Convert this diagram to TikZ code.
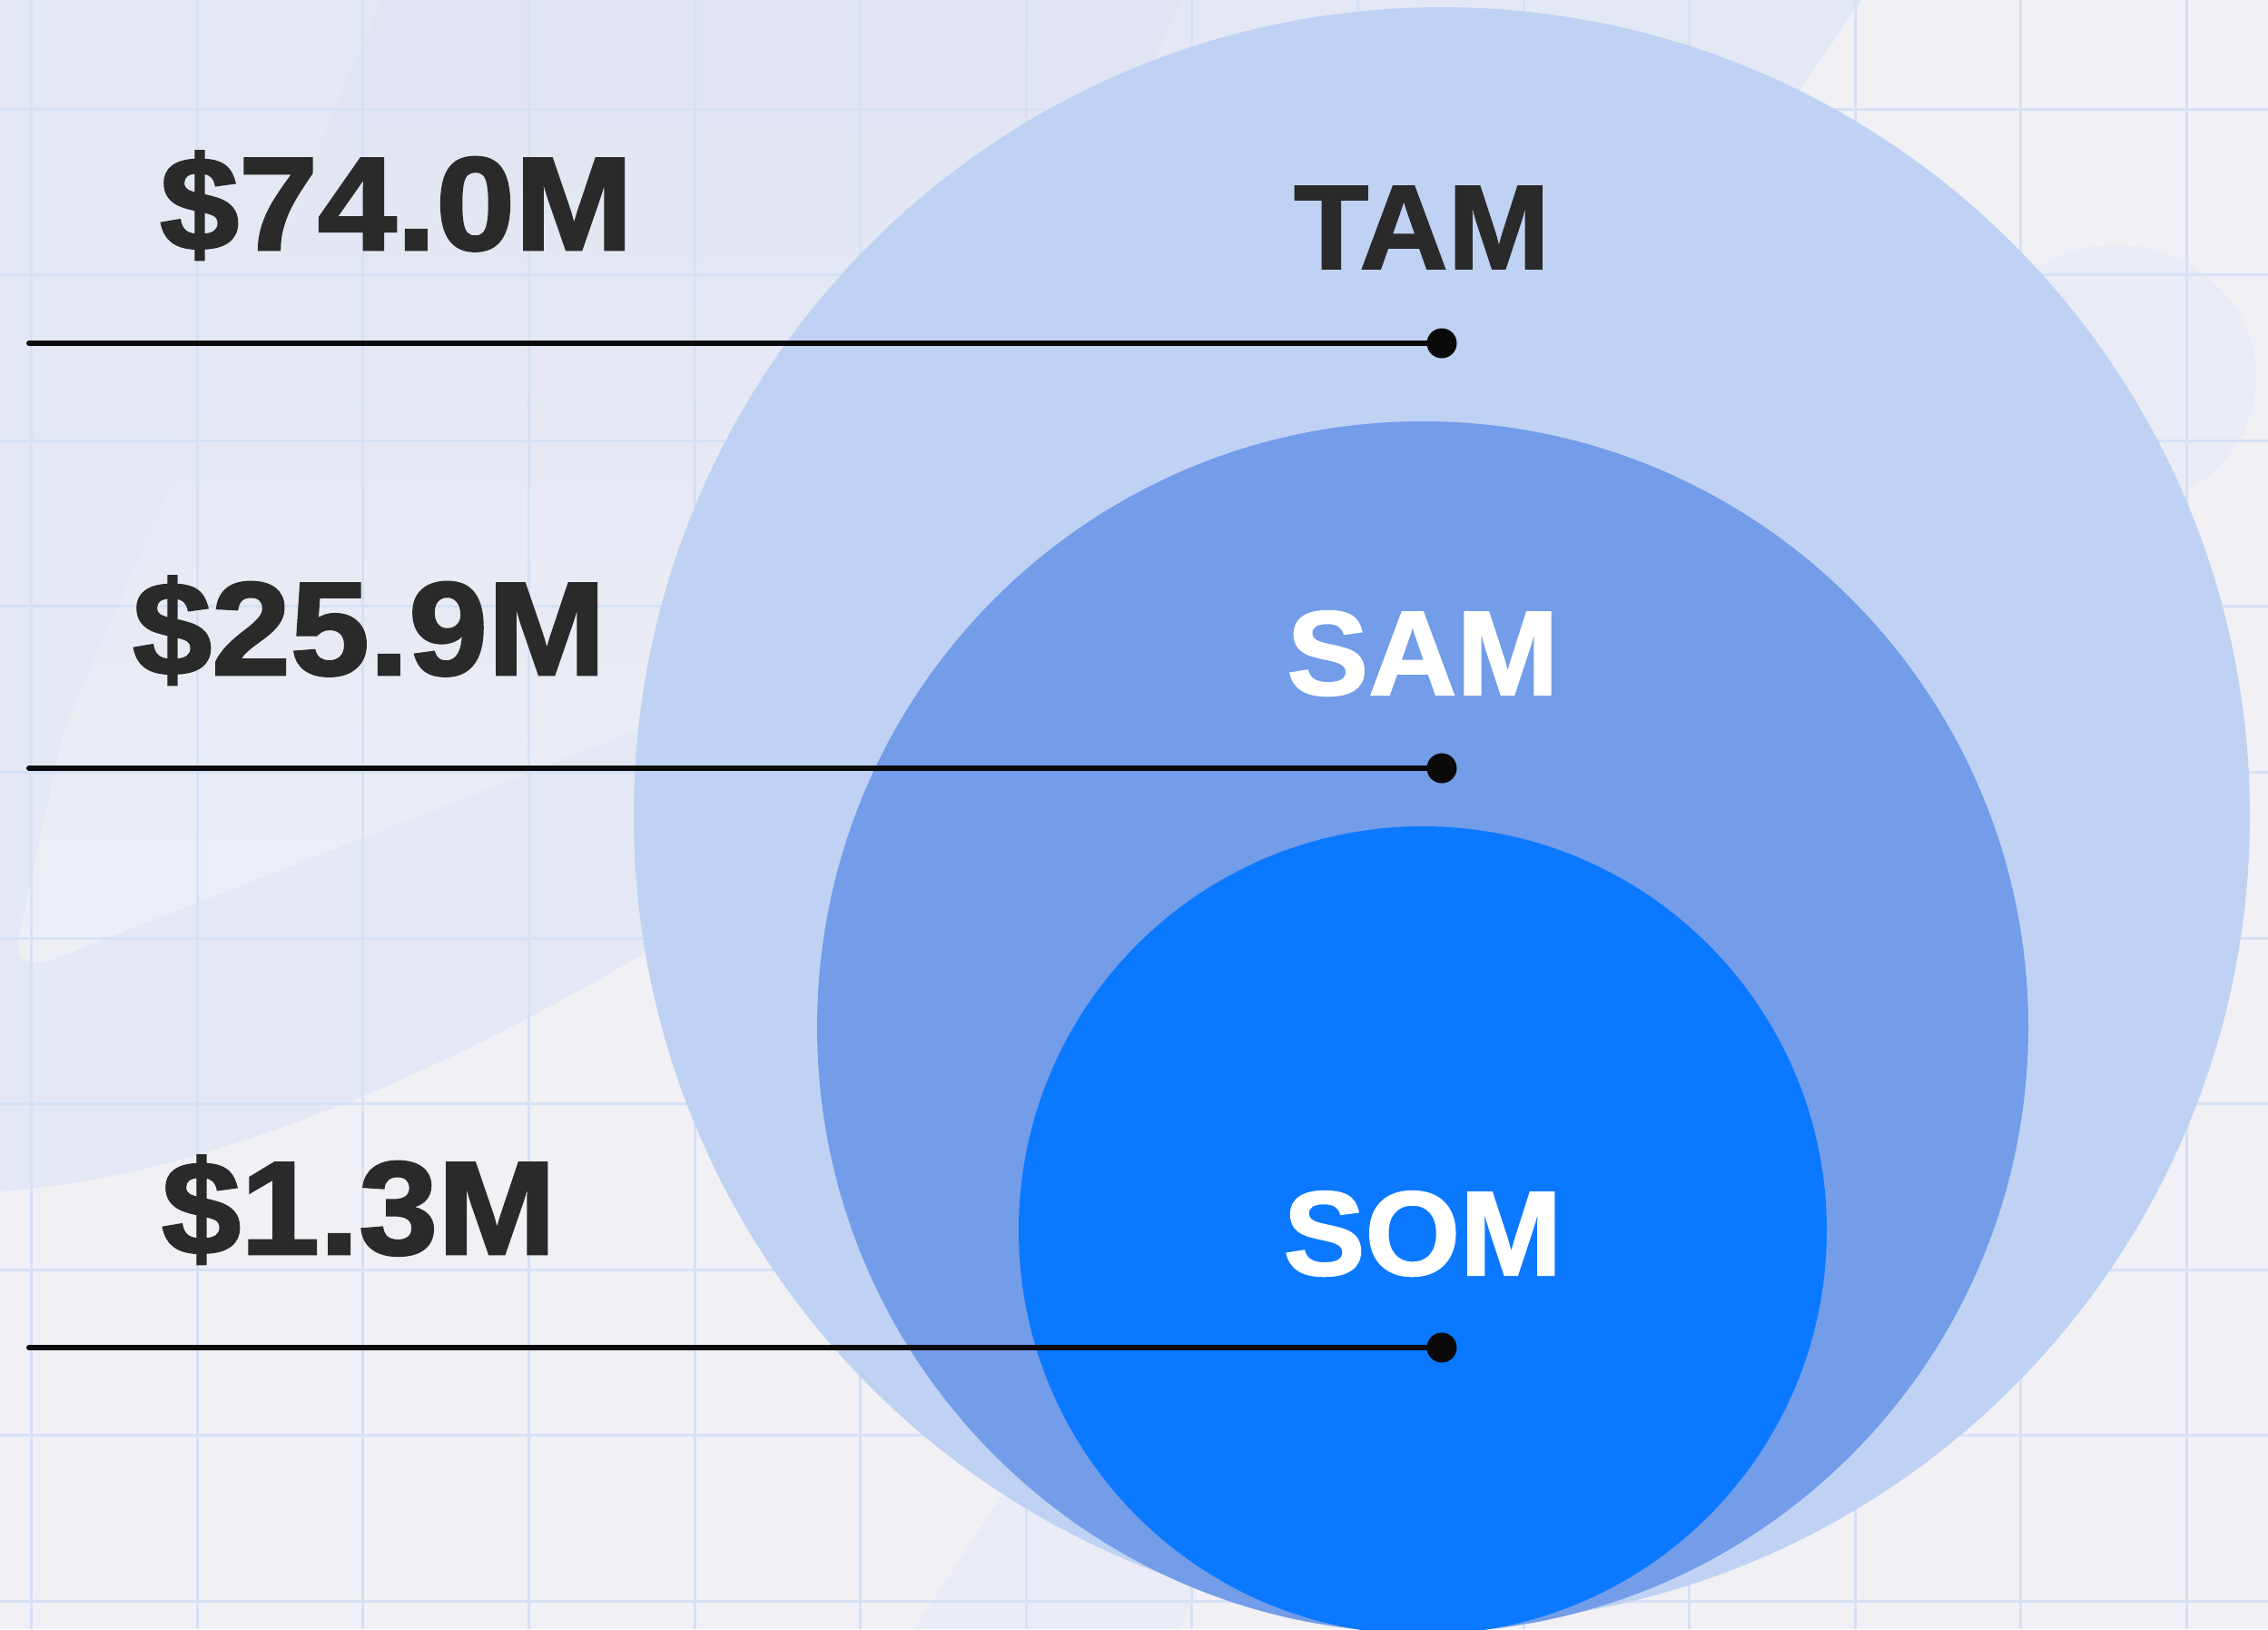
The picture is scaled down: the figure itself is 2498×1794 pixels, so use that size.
\documentclass[tikz,border=0pt]{standalone}
\usepackage{fontspec}
\setmainfont{Liberation Sans}
\newfontfamily\valfont{Liberation Sans Bold}[FakeStretch=1.07,FakeBold=2]
\newfontfamily\catfont{Liberation Sans Bold}[FakeStretch=1.02,FakeBold=1.5]
\definecolor{bgbase}{HTML}{F0F0F5}
\definecolor{bgblue}{HTML}{E3E8F4}
\definecolor{wedgetop}{HTML}{E0E4F3}
\definecolor{wedgebot}{HTML}{EDEFF5}
\definecolor{bgblob}{HTML}{E9ECF5}
\definecolor{gridc}{HTML}{D5E1F5}
\definecolor{tamc}{HTML}{BFD2F4}
\definecolor{samc}{HTML}{739CE9}
\definecolor{somc}{HTML}{0B79FF}
\definecolor{darktext}{HTML}{2A2A2A}
\definecolor{inkc}{HTML}{0A0A0A}
\tikzset{
  ring/.style={circle, inner sep=0pt, outer sep=0pt, draw=none},
  valtext/.style={inner sep=0pt, anchor=base west, text=darktext, font=\valfont\fontsize{146}{146}\selectfont},
  cattext/.style={inner sep=0pt, anchor=base, font=\catfont\fontsize{132}{132}\selectfont},
  dotnode/.style={circle, fill=inkc, inner sep=0pt, minimum size=33pt},
  leader/.style={draw=inkc, line width=6pt, line cap=round},
  gridline/.style={draw=gridc, line width=3pt}
}
\begin{document}
\begin{tikzpicture}[x=1pt,y=-1pt]
\useasboundingbox (0,0) rectangle (2498,1794);
\begin{scope}
\clip (0,0) rectangle (2498,1794);
% background
\fill[bgbase] (0,0) rectangle (2498,1794);
\fill[bgblue] (0,0) -- (2050,0) -- (1900,220) -- (1200,700) -- (702,1054)
  .. controls (420,1220) and (180,1300) .. (0,1312) -- cycle;
\shade[top color=wedgetop, bottom color=wedgebot]
  (421,0) -- (1300,0) -- (1000,700) -- (702,804) -- (70,1052)
  .. controls (30,1068) and (15,1060) .. (21,1030) -- (70,804) -- cycle;
\fill[bgblob] (2330,415) ellipse [x radius=155, y radius=145];
\fill[bgblob] (1007,1794) -- (1200,1500) -- (1420,1500) -- (1300,1794) -- cycle;
% grid
\foreach \gx in {0,...,13} { \draw[gridline] ({34.7+182.6*\gx},0) -- ({34.7+182.6*\gx},1794); }
\foreach \gy in {0,...,9} { \draw[gridline] (0,{120+182.6*\gy}) -- (2498,{120+182.6*\gy}); }
% circles
\node[ring, fill=tamc, minimum size=1780pt] (tam) at (1588,898) {};
\node[ring, fill=samc, minimum size=1334pt] (sam) at (1567,1131) {};
\node[ring, fill=somc, minimum size=890pt] (som) at (1567,1355) {};
\end{scope}
% category labels
\node[cattext, text=darktext] (tamlbl) at (1566,296) {TAM};
\node[cattext, text=white] (samlbl) at (1567,765) {SAM};
\node[cattext, text=white] (somlbl) at (1567,1404) {SOM};
% values
\node[valtext] (v1) at (176,275) {\$74.0M};
\node[valtext] (v2) at (146,743) {\$25.9M};
\node[valtext] (v3) at (178,1381) {\$1.3M};
% leader lines with dots
\coordinate (s1) at (32,378);
\coordinate (s2) at (32,846);
\coordinate (s3) at (32,1484);
\node[dotnode] (d1) at (1588,378) {};
\node[dotnode] (d2) at (1588,846) {};
\node[dotnode] (d3) at (1588,1484) {};
\draw[leader] (s1) -- (d1.center);
\draw[leader] (s2) -- (d2.center);
\draw[leader] (s3) -- (d3.center);
\end{tikzpicture}
\end{document}
